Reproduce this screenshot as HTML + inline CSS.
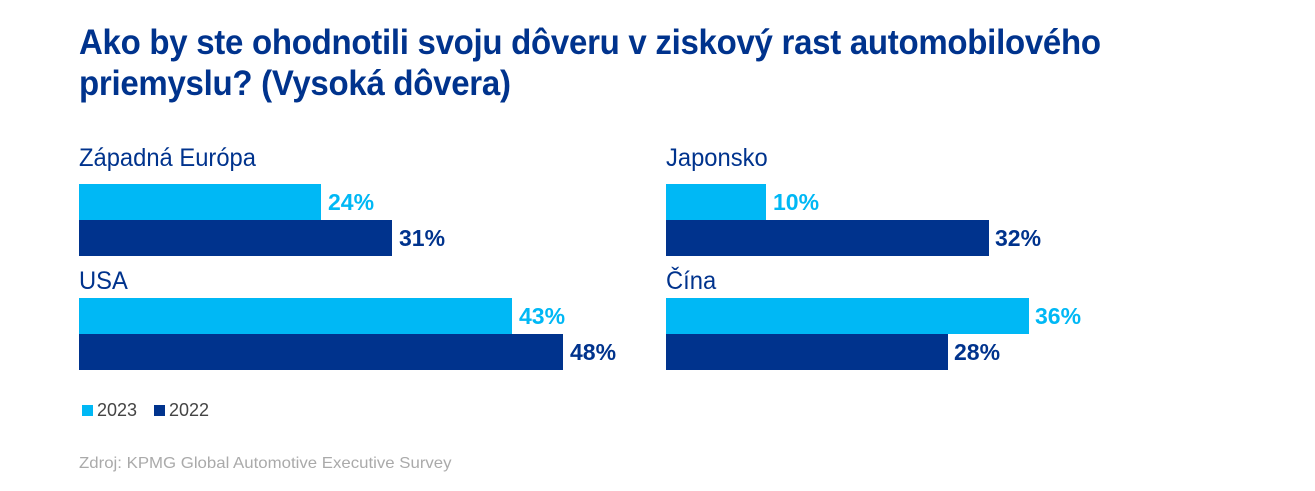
<!DOCTYPE html>
<html><head><meta charset="utf-8"><style>
body{margin:0;width:1315px;height:491px;background:#fff;position:relative;overflow:hidden;font-family:"Liberation Sans Narrow","Liberation Sans",sans-serif;}
.t{position:absolute;left:79px;top:22px;font-size:35px;font-weight:bold;color:#00338D;line-height:41px;letter-spacing:-0.3px;transform:scaleX(0.943);transform-origin:0 0;white-space:nowrap;}
.g{position:absolute;font-size:25px;color:#00338D;transform:scaleX(0.95);transform-origin:0 0;white-space:nowrap;}
.b{position:absolute;height:36px;}
.l{background:#00B8F5}.d{background:#00338D}
.v{position:absolute;font-size:23px;font-weight:bold;line-height:36px;}
.vl{color:#00B8F5}.vd{color:#00338D}
.lg{position:absolute;top:400px;font-size:18px;color:#444;}
.sq{position:absolute;top:405px;width:11px;height:11px;}
.src{position:absolute;left:79px;top:455px;font-size:16px;color:#aaa;font-family:"Liberation Sans",sans-serif;transform:scaleX(1.05);transform-origin:0 0;white-space:nowrap;}
</style></head><body>
<div class="t">Ako by ste ohodnotili svoju dôveru v ziskový rast automobilového<br>priemyslu? (Vysoká dôvera)</div>

<div class="g" style="left:79px;top:144px">Západná Európa</div>
<div class="b l" style="left:79px;top:184px;width:242px"></div><div class="v vl" style="left:328px;top:184px">24%</div>
<div class="b d" style="left:79px;top:220px;width:313px"></div><div class="v vd" style="left:399px;top:220px">31%</div>

<div class="g" style="left:79px;top:267px">USA</div>
<div class="b l" style="left:79px;top:298px;width:433px"></div><div class="v vl" style="left:519px;top:298px">43%</div>
<div class="b d" style="left:79px;top:334px;width:484px"></div><div class="v vd" style="left:570px;top:334px">48%</div>

<div class="g" style="left:666px;top:144px">Japonsko</div>
<div class="b l" style="left:666px;top:184px;width:100px"></div><div class="v vl" style="left:773px;top:184px">10%</div>
<div class="b d" style="left:666px;top:220px;width:323px"></div><div class="v vd" style="left:995px;top:220px">32%</div>

<div class="g" style="left:666px;top:267px">Čína</div>
<div class="b l" style="left:666px;top:298px;width:363px"></div><div class="v vl" style="left:1035px;top:298px">36%</div>
<div class="b d" style="left:666px;top:334px;width:282px"></div><div class="v vd" style="left:954px;top:334px">28%</div>

<div class="sq l" style="left:82px"></div><div class="lg" style="left:97px">2023</div>
<div class="sq d" style="left:154px"></div><div class="lg" style="left:169px">2022</div>
<div class="src">Zdroj: KPMG Global Automotive Executive Survey</div>
</body></html>
